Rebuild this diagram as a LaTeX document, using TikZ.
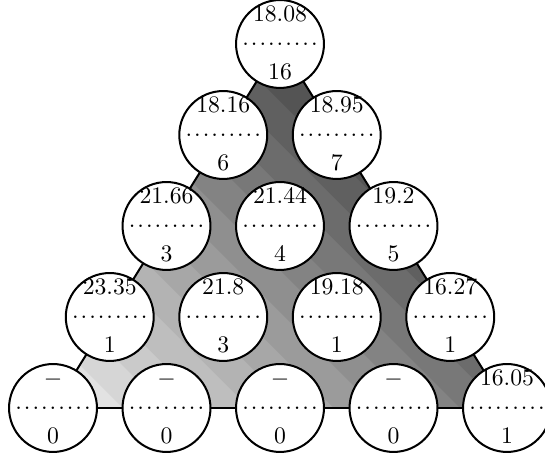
\documentclass[tikz,border=0pt]{standalone}
\usetikzlibrary{backgrounds}
\tikzset{
  cellcirc/.style={circle, draw, line width=0.85pt, fill=white,
    minimum size=37.1pt, inner sep=0pt},
  celltext/.style={anchor=base, inner sep=0pt},
  cellrule/.style={inner sep=0pt},
  edge/.style={line width=0.85pt},
}
% a row of nine dots separating the two values of a cell
\newcommand\dotrow{.\kern0.84pt.\kern0.84pt.\kern0.84pt.\kern0.84pt.%
  \kern0.84pt.\kern0.84pt.\kern0.84pt.\kern0.84pt.}
% \cell{name}{x}{y}{upper value}{lower value}
\newcommand\cell[5]{%
  \node[cellcirc] (#1) at (#2,#3) {};
  \node[celltext] (#1-top) at ([yshift=9.3pt]#1.center) {#4};
  \node[cellrule] (#1-mid) at (#1.center) {\dotrow};
  \node[celltext] (#1-bot) at ([yshift=-14.8pt]#1.center) {#5};
}
\begin{document}
\begin{tikzpicture}[x=0.422pt, y=0.422pt]
\useasboundingbox (0,0) rectangle (545,457);

% row 0
\cell{n00}{280}{413}{18.08}{16}
% row 1
\cell{n10}{223.25}{322}{18.16}{6}
\cell{n11}{336.75}{322}{18.95}{7}
% row 2
\cell{n20}{166.5}{231}{21.66}{3}
\cell{n21}{280}{231}{21.44}{4}
\cell{n22}{393.5}{231}{19.2}{5}
% row 3
\cell{n30}{109.75}{140}{23.35}{1}
\cell{n31}{223.25}{140}{21.8}{3}
\cell{n32}{336.75}{140}{19.18}{1}
\cell{n33}{450.25}{140}{16.27}{1}
% row 4
\cell{n40}{53}{49}{$-$}{0}
\cell{n41}{166.5}{49}{$-$}{0}
\cell{n42}{280}{49}{$-$}{0}
\cell{n43}{393.5}{49}{$-$}{0}
\cell{n44}{507}{49}{16.05}{1}

% triangle spanned by the three corner cells, filled with diagonal
% bands that darken from the lower left towards the upper right
\begin{scope}[on background layer]
  \begin{scope}
    \clip (n40.center) -- (n00.center) -- (n44.center) -- cycle;
    \begin{scope}[transform canvas={rotate around={45:(0,0)}}]
      \foreach \k in {-1,...,14} {
        \pgfmathsetmacro\lo{91.8+29.8*\k}
        \pgfmathsetmacro\hi{\lo+30.3}
        \pgfmathsetmacro\frac{(\lo+14.9-72.1)/417.9}
        \pgfmathsetmacro\shadeval{min(100,max(0,6+65*\frac))}
        \fill[black!\shadeval] (\lo,-340) rectangle (\hi,110);
      }
    \end{scope}
  \end{scope}
  \draw[edge] (n40.center) -- (n00.center);
  \draw[edge] (n00.center) -- (n44.center);
  \draw[edge] (n44.center) -- (n40.center);
\end{scope}
\end{tikzpicture}
\end{document}
